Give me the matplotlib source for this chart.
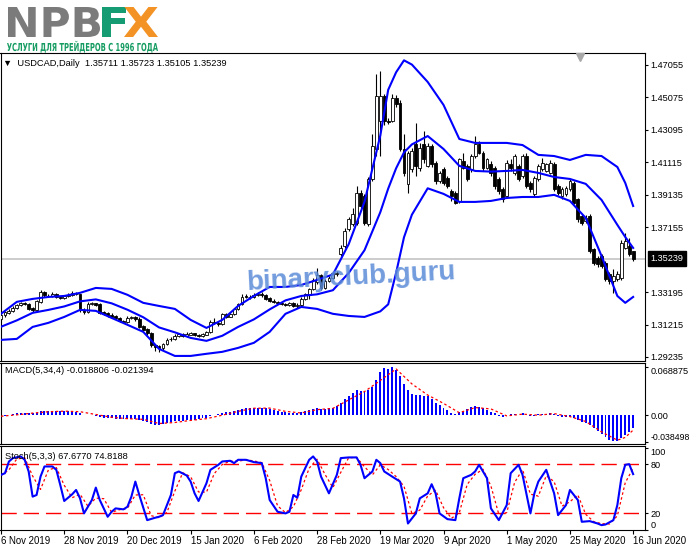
import numpy as np
import matplotlib.pyplot as plt
from matplotlib.textpath import TextPath
from matplotlib.patches import PathPatch
from matplotlib.font_manager import FontProperties
from matplotlib.transforms import Affine2D

plt.rcParams['font.family'] = ['Liberation Sans', 'DejaVu Sans']

# ---- daily USDCAD candles ----
opens = [1.3158, 1.3180, 1.3194, 1.3206, 1.3225, 1.3240, 1.3250, 1.3247, 1.3222, 1.3210,
         1.3262, 1.3318, 1.3298, 1.3296, 1.3308, 1.3292, 1.3283, 1.3296, 1.3300, 1.3310,
         1.3306, 1.3212, 1.3198, 1.3247, 1.3251, 1.3245, 1.3196, 1.3190, 1.3180, 1.3172,
         1.3164, 1.3145, 1.3137, 1.3160, 1.3166, 1.3158, 1.3110, 1.3092, 1.3070, 1.2998,
         1.2990, 1.2979, 1.3003, 1.3036, 1.3032, 1.3050, 1.3063, 1.3053, 1.3060, 1.3067,
         1.3060, 1.3053, 1.3060, 1.3073, 1.3140, 1.3134, 1.3124, 1.3185, 1.3170, 1.3185,
         1.3215, 1.3246, 1.3294, 1.3292, 1.3288, 1.3300, 1.3310, 1.3302, 1.3282, 1.3268,
         1.3262, 1.3254, 1.3248, 1.3240, 1.3252, 1.3235, 1.3240, 1.3280, 1.3300, 1.3337,
         1.3380, 1.3422, 1.3347, 1.3388, 1.3408, 1.3430, 1.3550, 1.3600, 1.3702, 1.3733,
         1.3743, 1.3926, 1.3905, 1.3733, 1.4007, 1.4190, 1.4363, 1.4515, 1.4363, 1.4363,
         1.4505, 1.4475, 1.4190, 1.3977, 1.4068, 1.4221, 1.4078, 1.4221, 1.4088, 1.4210,
         1.4109, 1.3997, 1.4068, 1.4017, 1.3936, 1.3926, 1.3875, 1.4119, 1.4088, 1.4068,
         1.4149, 1.4221, 1.4170, 1.4078, 1.4099, 1.4078, 1.4007, 1.3946, 1.3905, 1.4099,
         1.4048, 1.4088, 1.4027, 1.4149, 1.3987, 1.3916, 1.4007, 1.4068, 1.4058, 1.4048,
         1.4099, 1.3966, 1.3905, 1.3916, 1.3946, 1.3987, 1.3885, 1.3784, 1.3753, 1.3784,
         1.3580, 1.3529, 1.3540, 1.3499, 1.3428, 1.3387, 1.3397, 1.3407, 1.3590, 1.3600,
         1.35711]
highs = [1.3190, 1.3205, 1.3215, 1.3232, 1.3248, 1.3262, 1.3258, 1.3252, 1.3228, 1.3272,
         1.3335, 1.3328, 1.3310, 1.3318, 1.3315, 1.3298, 1.3302, 1.3312, 1.3325, 1.3320,
         1.3310, 1.3220, 1.3258, 1.3258, 1.3256, 1.3250, 1.3205, 1.3198, 1.3192, 1.3180,
         1.3170, 1.3152, 1.3172, 1.3175, 1.3172, 1.3165, 1.3118, 1.3098, 1.3075, 1.3005,
         1.2995, 1.3010, 1.3042, 1.3048, 1.3062, 1.3072, 1.3070, 1.3075, 1.3078, 1.3072,
         1.3066, 1.3070, 1.3085, 1.3150, 1.3160, 1.3142, 1.3195, 1.3192, 1.3195, 1.3225,
         1.3255, 1.3305, 1.3305, 1.3300, 1.3312, 1.3320, 1.3318, 1.3308, 1.3288, 1.3275,
         1.3268, 1.3262, 1.3256, 1.3262, 1.3258, 1.3250, 1.3290, 1.3316, 1.3345, 1.3405,
         1.3465, 1.3430, 1.3400, 1.3420, 1.3445, 1.3450, 1.3605, 1.3710, 1.3780, 1.3830,
         1.3966, 1.3940, 1.3920, 1.4020, 1.4282, 1.4648, 1.4668, 1.4530, 1.4380, 1.4530,
         1.4520, 1.4490, 1.4282, 1.4180, 1.4200, 1.4353, 1.4230, 1.4302, 1.4230, 1.4225,
         1.4120, 1.4060, 1.4080, 1.4030, 1.3946, 1.3936, 1.4140, 1.4170, 1.4100, 1.4160,
         1.4271, 1.4240, 1.4180, 1.4140, 1.4119, 1.4090, 1.4020, 1.3960, 1.4125, 1.4130,
         1.4160, 1.4100, 1.4160, 1.4170, 1.4000, 1.4030, 1.4100, 1.4140, 1.4110, 1.4125,
         1.4115, 1.3980, 1.3960, 1.3970, 1.4010, 1.4000, 1.3895, 1.3795, 1.3790, 1.3795,
         1.3590, 1.3540, 1.3550, 1.3510, 1.3440, 1.3460, 1.3450, 1.3640, 1.3682, 1.3651,
         1.35723]
lows = [1.3150, 1.3170, 1.3185, 1.3200, 1.3215, 1.3235, 1.3240, 1.3212, 1.3200, 1.3205,
        1.3255, 1.3292, 1.3288, 1.3290, 1.3285, 1.3276, 1.3278, 1.3290, 1.3295, 1.3300,
        1.3200, 1.3185, 1.3190, 1.3240, 1.3232, 1.3188, 1.3180, 1.3170, 1.3160, 1.3152,
        1.3135, 1.3128, 1.3130, 1.3155, 1.3145, 1.3100, 1.3080, 1.3058, 1.2985, 1.2962,
        1.2955, 1.2965, 1.2995, 1.3020, 1.3025, 1.3045, 1.3045, 1.3048, 1.3055, 1.3050,
        1.3045, 1.3048, 1.3055, 1.3068, 1.3125, 1.3115, 1.3118, 1.3162, 1.3165, 1.3178,
        1.3208, 1.3240, 1.3284, 1.3280, 1.3282, 1.3294, 1.3292, 1.3272, 1.3258, 1.3252,
        1.3244, 1.3238, 1.3232, 1.3234, 1.3226, 1.3225, 1.3234, 1.3272, 1.3275, 1.3330,
        1.3372, 1.3335, 1.3340, 1.3380, 1.3400, 1.3420, 1.3540, 1.3590, 1.3690, 1.3720,
        1.3730, 1.3830, 1.3730, 1.3720, 1.3995, 1.4149, 1.4149, 1.4340, 1.4345, 1.4355,
        1.4450, 1.4180, 1.4030, 1.3926, 1.4050, 1.4027, 1.4060, 1.4110, 1.4080, 1.4085,
        1.3980, 1.3985, 1.3975, 1.3956, 1.3875, 1.3855, 1.3865, 1.4068, 1.3995, 1.4050,
        1.4140, 1.4160, 1.4060, 1.4068, 1.4030, 1.3950, 1.3920, 1.3870, 1.3895, 1.4060,
        1.4035, 1.3995, 1.4015, 1.3955, 1.3930, 1.3905, 1.3995, 1.4060, 1.4050, 1.4040,
        1.3935, 1.3910, 1.3890, 1.3905, 1.3935, 1.3855, 1.3750, 1.3730, 1.3740, 1.3560,
        1.3485, 1.3475, 1.3465, 1.3385, 1.3370, 1.3316, 1.3385, 1.3395, 1.3580, 1.3540,
        1.35105]
closes = [1.3180, 1.3196, 1.3206, 1.3225, 1.3240, 1.3252, 1.3247, 1.3218, 1.3210, 1.3265,
          1.3320, 1.3300, 1.3296, 1.3308, 1.3292, 1.3283, 1.3296, 1.3304, 1.3312, 1.3306,
          1.3210, 1.3198, 1.3247, 1.3251, 1.3239, 1.3194, 1.3188, 1.3178, 1.3170, 1.3162,
          1.3141, 1.3137, 1.3164, 1.3166, 1.3154, 1.3109, 1.3089, 1.3068, 1.2995, 1.2987,
          1.2979, 1.3003, 1.3030, 1.3032, 1.3053, 1.3063, 1.3053, 1.3063, 1.3067, 1.3057,
          1.3053, 1.3063, 1.3073, 1.3138, 1.3134, 1.3124, 1.3185, 1.3170, 1.3185, 1.3215,
          1.3246, 1.3292, 1.3292, 1.3288, 1.3300, 1.3310, 1.3300, 1.3280, 1.3266, 1.3260,
          1.3252, 1.3246, 1.3240, 1.3252, 1.3235, 1.3240, 1.3280, 1.3306, 1.3337, 1.3394,
          1.3422, 1.3347, 1.3388, 1.3408, 1.3434, 1.3438, 1.3590, 1.3692, 1.3763, 1.3794,
          1.3926, 1.3844, 1.3743, 1.4007, 1.4210, 1.4515, 1.4515, 1.4363, 1.4360, 1.4505,
          1.4466, 1.4190, 1.4048, 1.4170, 1.4180, 1.4088, 1.4200, 1.4129, 1.4210, 1.4099,
          1.3997, 1.4048, 1.3987, 1.3966, 1.3905, 1.3865, 1.4129, 1.4078, 1.4007, 1.4149,
          1.4221, 1.4170, 1.4078, 1.4129, 1.4048, 1.3966, 1.3936, 1.3885, 1.4109, 1.4078,
          1.4149, 1.4007, 1.4149, 1.3966, 1.3946, 1.4017, 1.4088, 1.4109, 1.4099, 1.4109,
          1.3946, 1.3926, 1.3946, 1.3956, 1.3997, 1.3865, 1.3763, 1.3743, 1.3773, 1.3570,
          1.3499, 1.3489, 1.3479, 1.3397, 1.3387, 1.3418, 1.3428, 1.3621, 1.3631, 1.3550,
          1.35239]
last_price = 1.35239

# ---- Bollinger bands, sampled along the bars ----
band_idx = [0, 4, 8, 12, 16, 20, 24, 28, 32, 36, 40, 44, 48, 52, 56, 60, 64, 68, 72, 76, 80, 84,
            88, 92, 96, 98, 100, 102, 104, 108, 112, 116, 120, 124, 128, 132, 136, 140, 144,
            148, 152, 156, 158, 160]
bb_upper = [1.3187, 1.3260, 1.3278, 1.3290, 1.3296, 1.3315, 1.3345, 1.3339, 1.3303, 1.3254,
            1.3235, 1.3217, 1.3150, 1.3101, 1.3150, 1.3235, 1.3296, 1.3351, 1.3351, 1.3363,
            1.3394, 1.3427, 1.3612, 1.3870, 1.4275, 1.4554, 1.4661, 1.4734, 1.4708, 1.4602,
            1.4462, 1.4254, 1.4230, 1.4230, 1.4230, 1.4217, 1.4157, 1.4150, 1.4126, 1.4157,
            1.4150, 1.4083, 1.3986, 1.3845]
bb_mid = [1.3108, 1.3147, 1.3193, 1.3211, 1.3232, 1.3263, 1.3275, 1.3251, 1.3212, 1.3166,
          1.3104, 1.3074, 1.3040, 1.3022, 1.3053, 1.3107, 1.3153, 1.3214, 1.3269, 1.3296,
          1.3306, 1.3331, 1.3436, 1.3575, 1.3807, 1.3951, 1.4075, 1.4172, 1.4221, 1.4272,
          1.4193, 1.4090, 1.4059, 1.4055, 1.4059, 1.4065, 1.4047, 1.4022, 1.4010, 1.3980,
          1.3882, 1.3730, 1.3656, 1.3589]
bb_lower = [1.3028, 1.3034, 1.3107, 1.3132, 1.3168, 1.3211, 1.3205, 1.3162, 1.3120, 1.3077,
            1.2973, 1.2930, 1.2930, 1.2943, 1.2955, 1.2979, 1.3010, 1.3077, 1.3187, 1.3229,
            1.3217, 1.3187, 1.3174, 1.3168, 1.3202, 1.3245, 1.3437, 1.3654, 1.3792, 1.3953,
            1.3919, 1.3870, 1.3870, 1.3876, 1.3894, 1.3900, 1.3900, 1.3913, 1.3876, 1.3772,
            1.3540, 1.3296, 1.3254, 1.3290]

# ---- MACD(5,34,4), values in thousandths ----
macd_main_milli = [-1.5, -1.0, 0.5, 1.5, 2.5, 3.0, 3.5, 3.5, 3.0, 3.5,
                   5.5, 6.0, 6.0, 6.0, 5.5, 5.5, 5.5, 5.5, 5.5, 5.0,
                   2.5, 0.5, 0.5, 0.5, -1.0, -2.5, -3.5, -4.0, -4.5, -5.0,
                   -5.5, -5.5, -5.0, -5.0, -5.5, -7.0, -8.5, -10.0, -13.0, -13.5,
                   -14.0, -12.5, -11.0, -10.0, -9.0, -8.5, -8.0, -7.5, -7.0, -6.5,
                   -5.5, -4.5, -3.5, -1.0, 0.5, 1.5, 3.0, 4.0, 5.0, 6.0,
                   7.0, 9.0, 10.0, 10.5, 11.0, 11.0, 10.5, 10.0, 9.0, 7.5,
                   6.0, 5.0, 4.0, 3.5, 3.0, 3.0, 4.0, 5.5, 7.5, 9.5,
                   10.5, 9.0, 9.5, 10.0, 10.5, 13.0, 17.5, 23.0, 27.0, 32.0,
                   36.0, 35.0, 34.0, 36.0, 40.0, 50.0, 62.0, 68.0, 67.0, 68.9,
                   65.0, 56.0, 45.0, 36.0, 31.0, 29.5, 29.0, 28.0, 27.5, 23.0,
                   18.0, 14.5, 11.0, 7.5, 3.5, 1.0, 5.0, 6.0, 9.0, 12.0,
                   13.5, 12.0, 10.0, 8.0, 5.0, 2.5, -1.0, -2.5, 0.5, 1.5,
                   2.0, 0.5, 2.5, 0.5, -1.0, -0.5, 1.0, 2.0, 2.0, 3.0,
                   1.0, -1.0, -2.0, -2.5, -2.0, -4.0, -7.5, -10.0, -11.5, -14.0,
                   -18.5, -23.0, -27.5, -31.5, -35.0, -37.0, -37.0, -33.0, -28.5, -24.0,
                   -18.806]
macd_sig_idx = [0, 4, 8, 12, 16, 20, 24, 28, 32, 36, 40, 44, 48, 52, 56, 60, 64, 68, 72, 76,
                80, 84, 88, 92, 96, 100, 104, 108, 112, 116, 120, 124, 128, 132, 136, 140, 144,
                148, 152, 156, 158, 160]
macd_sig_milli = [-1.5, 0.5, 3.0, 5.0, 5.8, 5.0, 1.0, -3.0, -5.0, -6.0, -12.0, -10.5, -7.5, -5.0,
                  0.0, 5.5, 10.0, 10.2, 5.5, 3.2, 8.0, 9.8, 22.0, 34.0, 50.0, 66.5, 45.0, 29.0,
                  17.0, 3.5, 11.0, 9.0, -1.0, 1.5, 0.0, 2.3, -2.0, -9.0, -24.0, -36.0, -32.0,
                  -21.394]

# ---- Stochastic(5,3,3) ----
stoch_idx = [0, 1, 2, 3, 5, 6, 7, 8, 9, 10, 11, 13, 14, 15, 16, 18, 19, 20, 21, 23,
             24, 25, 27, 28, 29, 31, 32, 33, 34, 35, 37, 39, 40, 41, 43, 44, 45, 47, 48, 49,
             50, 52, 53, 55, 56, 58, 59, 60, 62, 64, 66, 67, 68, 70, 72, 73, 74, 75, 76, 78,
             79, 80, 81, 83, 85, 86, 88, 90, 91, 92, 94, 95, 96, 97, 99, 101, 102, 103, 105, 106,
             108, 109, 110, 111, 113, 115, 116, 117, 119, 120, 121, 123, 124, 126, 128, 129, 131,
             132, 134, 135, 136, 138, 140, 141, 143, 144, 146, 147, 149, 151, 152, 153, 155, 156,
             157, 158, 159, 160]
stoch_main = [66.8, 68.8, 83, 87.2, 89.2, 85.1, 70.9, 40.3, 42.3, 64.7,
              77, 77, 72.9, 54.5, 35, 43.1, 48.4, 38.2, 19.9, 36.2,
              51.3, 36.2, 15.8, 21.9, 26, 24.8, 28, 40.3, 58.6, 42.3,
              11.7, 14.6, 15.8, 17.8, 42.3, 68.8, 70.9, 66, 58.6, 44.3,
              35, 56.6, 72.9, 79, 83.1, 83.9, 81.1, 85.1, 85.1, 82.3,
              81.1, 62.7, 36.2, 21.9, 19.9, 21.9, 42.3, 39, 64.7, 85.1,
              89.2, 83.1, 64.7, 44.3, 66.8, 87.2, 88, 88, 79, 62.7,
              70.9, 85.1, 81.1, 70.9, 64.7, 58.6, 38.2, 7.6, 19.9, 38.2,
              44.3, 55.4, 44.3, 19.9, 12.9, 11.7, 38.2, 62.7, 66.8, 70.9,
              79, 62.7, 26, 11.7, 30, 68.8, 79, 66.8, 19.9, 44.3,
              58.6, 72.9, 44.3, 17.8, 30, 48.4, 36.2, 9.7, 10.5, 7.6,
              5.6, 6.4, 11.7, 30, 62.7, 79, 79.8, 67.677]
stoch_sig_idx = list(range(0, 161, 2))
stoch_signal = [66, 72.9, 86.1, 87.5, 65.4, 49.1, 72.9, 75.6, 54.1, 39,
                43.2, 28.7, 38.5, 37.8, 21.2, 24.4, 26.1, 42.3, 42.6, 17.2,
                14.5, 21.2, 47, 69.4, 64.4, 46, 45.8, 68.5, 79.4, 83.5,
                83.4, 85.1, 83.7, 81.7, 60, 29, 20.9, 28, 48.7, 74.9,
                85.8, 67.4, 51.4, 69.8, 87.6, 88, 76.6, 66.8, 79, 73.3,
                64.7, 52.8, 19.8, 23.9, 41.2, 48, 26.9, 13.9, 20.7, 55.2,
                67.5, 73.6, 53.2, 18.8, 20.8, 57.6, 73.2, 43.3, 40.9, 65.7,
                58.6, 28.7, 34.1, 42.3, 18.7, 9.9, 7.4, 7, 16.9, 57.2,
                74.8188]

price_ticks = [1.47055, 1.45075, 1.43095, 1.41115, 1.39135, 1.37155, 1.33195, 1.31215, 1.29235]
date_idx = [0, 16, 32, 48, 64, 80, 96, 112, 128, 144, 160]
date_labels = ['6 Nov 2019', '28 Nov 2019', '20 Dec 2019', '15 Jan 2020', '6 Feb 2020',
               '28 Feb 2020', '19 Mar 2020', '9 Apr 2020', '1 May 2020', '25 May 2020',
               '16 Jun 2020']

W, H = 691, 549
fig = plt.figure(figsize=(W / 100, H / 100), dpi=100)
fig.patch.set_facecolor('white')


def axes_px(left, top, right, bottom):
    return fig.add_axes([left / W, 1 - bottom / H, (right - left) / W, (bottom - top) / H])


ax = axes_px(0.5, 53.3, 645, 360.7)
ax_macd = axes_px(0.5, 362.7, 645, 444.3)
ax_st = axes_px(0.5, 446, 645, 530)

for a in (ax, ax_macd, ax_st):
    a.set_xlim(-0.13, 163.0)
    for s in a.spines.values():
        s.set_linewidth(0.8)
    a.yaxis.tick_right()
    a.tick_params(axis='y', direction='out', length=2.5, width=0.8, labelsize=6.6, pad=1.5)
    a.tick_params(axis='x', bottom=False, labelbottom=False)

# ---- main price panel ----
o = np.array(opens)
c = np.array(closes)
x = np.arange(len(c))
bull = c >= o
ax.axhline(last_price, color='#c8c8c8', lw=1.3, zorder=1)
ax.vlines(x, lows, highs, color='black', lw=0.8, zorder=2)
ax.bar(x, np.abs(c - o), bottom=np.minimum(o, c), width=0.72,
       color=np.where(bull, 'white', 'black'), edgecolor='black', linewidth=0.6, zorder=3)
for band in (bb_upper, bb_mid, bb_lower):
    ax.plot(band_idx, band, color='#0000ff', lw=1.5, zorder=4)
ax.set_ylim(1.29009, 1.47769)
ax.set_yticks(price_ticks)
ax.set_yticklabels([f'{p:.5f}' for p in price_ticks])

ax.text(3 / 645, 0.968, '▼  USDCAD,Daily  1.35711 1.35723 1.35105 1.35239',
        transform=ax.transAxes, fontsize=6.7, va='center', ha='left')
ax.text(1.0085, last_price, '1.35239', transform=ax.get_yaxis_transform(), color='white',
        fontsize=6.6, va='center', ha='left', clip_on=False,
        bbox=dict(boxstyle='square,pad=0.3', fc='black', ec='black'))
ax.plot([580 / 645], [0.987], marker='v', ms=6, color='#a8a8a8',
        transform=ax.transAxes, clip_on=False, zorder=5)
ax.text(0.544, 0.272, 'binaryclub.guru', transform=ax.transAxes, fontsize=20,
        fontweight='bold', color='#5b8bd8', alpha=0.85, rotation=3,
        ha='center', va='center', zorder=6)

# ---- MACD panel ----
ax_macd.bar(x, np.array(macd_main_milli) / 1000, width=0.5, color='#0000ff', zorder=2)
ax_macd.plot(macd_sig_idx, np.array(macd_sig_milli) / 1000, color='red', lw=0.9,
             ls=(0, (2, 2)), zorder=3)
ax_macd.set_ylim(-0.04188, 0.07552)
ax_macd.set_yticks([0.068875, 0.0, -0.038498])
ax_macd.set_yticklabels(['0.068875', '0.00', '-0.038498'])
lbl = ax_macd.get_yticklabels()
lbl[0].set_va('top')
lbl[2].set_va('bottom')
lbl[2].set_fontsize(6.3)
ax_macd.text(5 / 645, 0.91, 'MACD(5,34,4) -0.018806 -0.021394', transform=ax_macd.transAxes,
             fontsize=6.7, va='center', ha='left')

# ---- Stochastic panel ----
ax_st.axhline(80, color='red', lw=1, ls=(0, (11, 5)), zorder=1)
ax_st.axhline(20, color='red', lw=1, ls=(0, (11, 5)), zorder=1)
ax_st.plot(stoch_sig_idx, stoch_signal, color='red', lw=0.9, ls=(0, (2, 2)), zorder=2)
ax_st.plot(stoch_idx, stoch_main, color='#0000ff', lw=1.5, zorder=3)
ax_st.set_ylim(-0.3, 101.9)
ax_st.set_yticks([100, 80, 20, 0])
ax_st.set_yticklabels(['100', '80', '20', '0'])
lbl = ax_st.get_yticklabels()
lbl[0].set_va('top')
lbl[3].set_va('bottom')
ax_st.text(5 / 645, 0.88, 'Stoch(5,3,3) 67.6770 74.8188', transform=ax_st.transAxes,
           fontsize=6.7, va='center', ha='left')
ax_st.set_xticks(date_idx)
ax_st.set_xticklabels(date_labels, ha='left', fontsize=6.9)
ax_st.tick_params(axis='x', bottom=True, labelbottom=True, length=3, width=0.8, pad=1.5)

# ---- logo ----
logo_font = FontProperties(family='DejaVu Sans', weight='bold')
cap_h = TextPath((0, 0), 'H', size=10, prop=logo_font).get_extents().y1


def logo_text(s, x0, x1, top, base, color):
    path = TextPath((0, 0), s, size=10, prop=logo_font)
    bb = path.get_extents()
    tr = (Affine2D().translate(-bb.x0, 0)
          .scale((x1 - x0) / bb.width / W, (base - top) / cap_h / H)
          .translate(x0 / W, 1 - base / H) + fig.transFigure)
    fig.add_artist(PathPatch(path, transform=tr, facecolor=color, edgecolor='none'))


logo_text('NPB', 8, 100, 7, 37, '#7b7b7b')
logo_text('F', 102, 126, 7, 37, '#169c72')
logo_text('X', 124, 158, 7, 37, '#f39325')
logo_text('УСЛУГИ ДЛЯ ТРЕЙДЕРОВ С 1996 ГОДА', 7, 158, 43, 51, '#169c62')

fig.savefig('out.png', dpi=100)
